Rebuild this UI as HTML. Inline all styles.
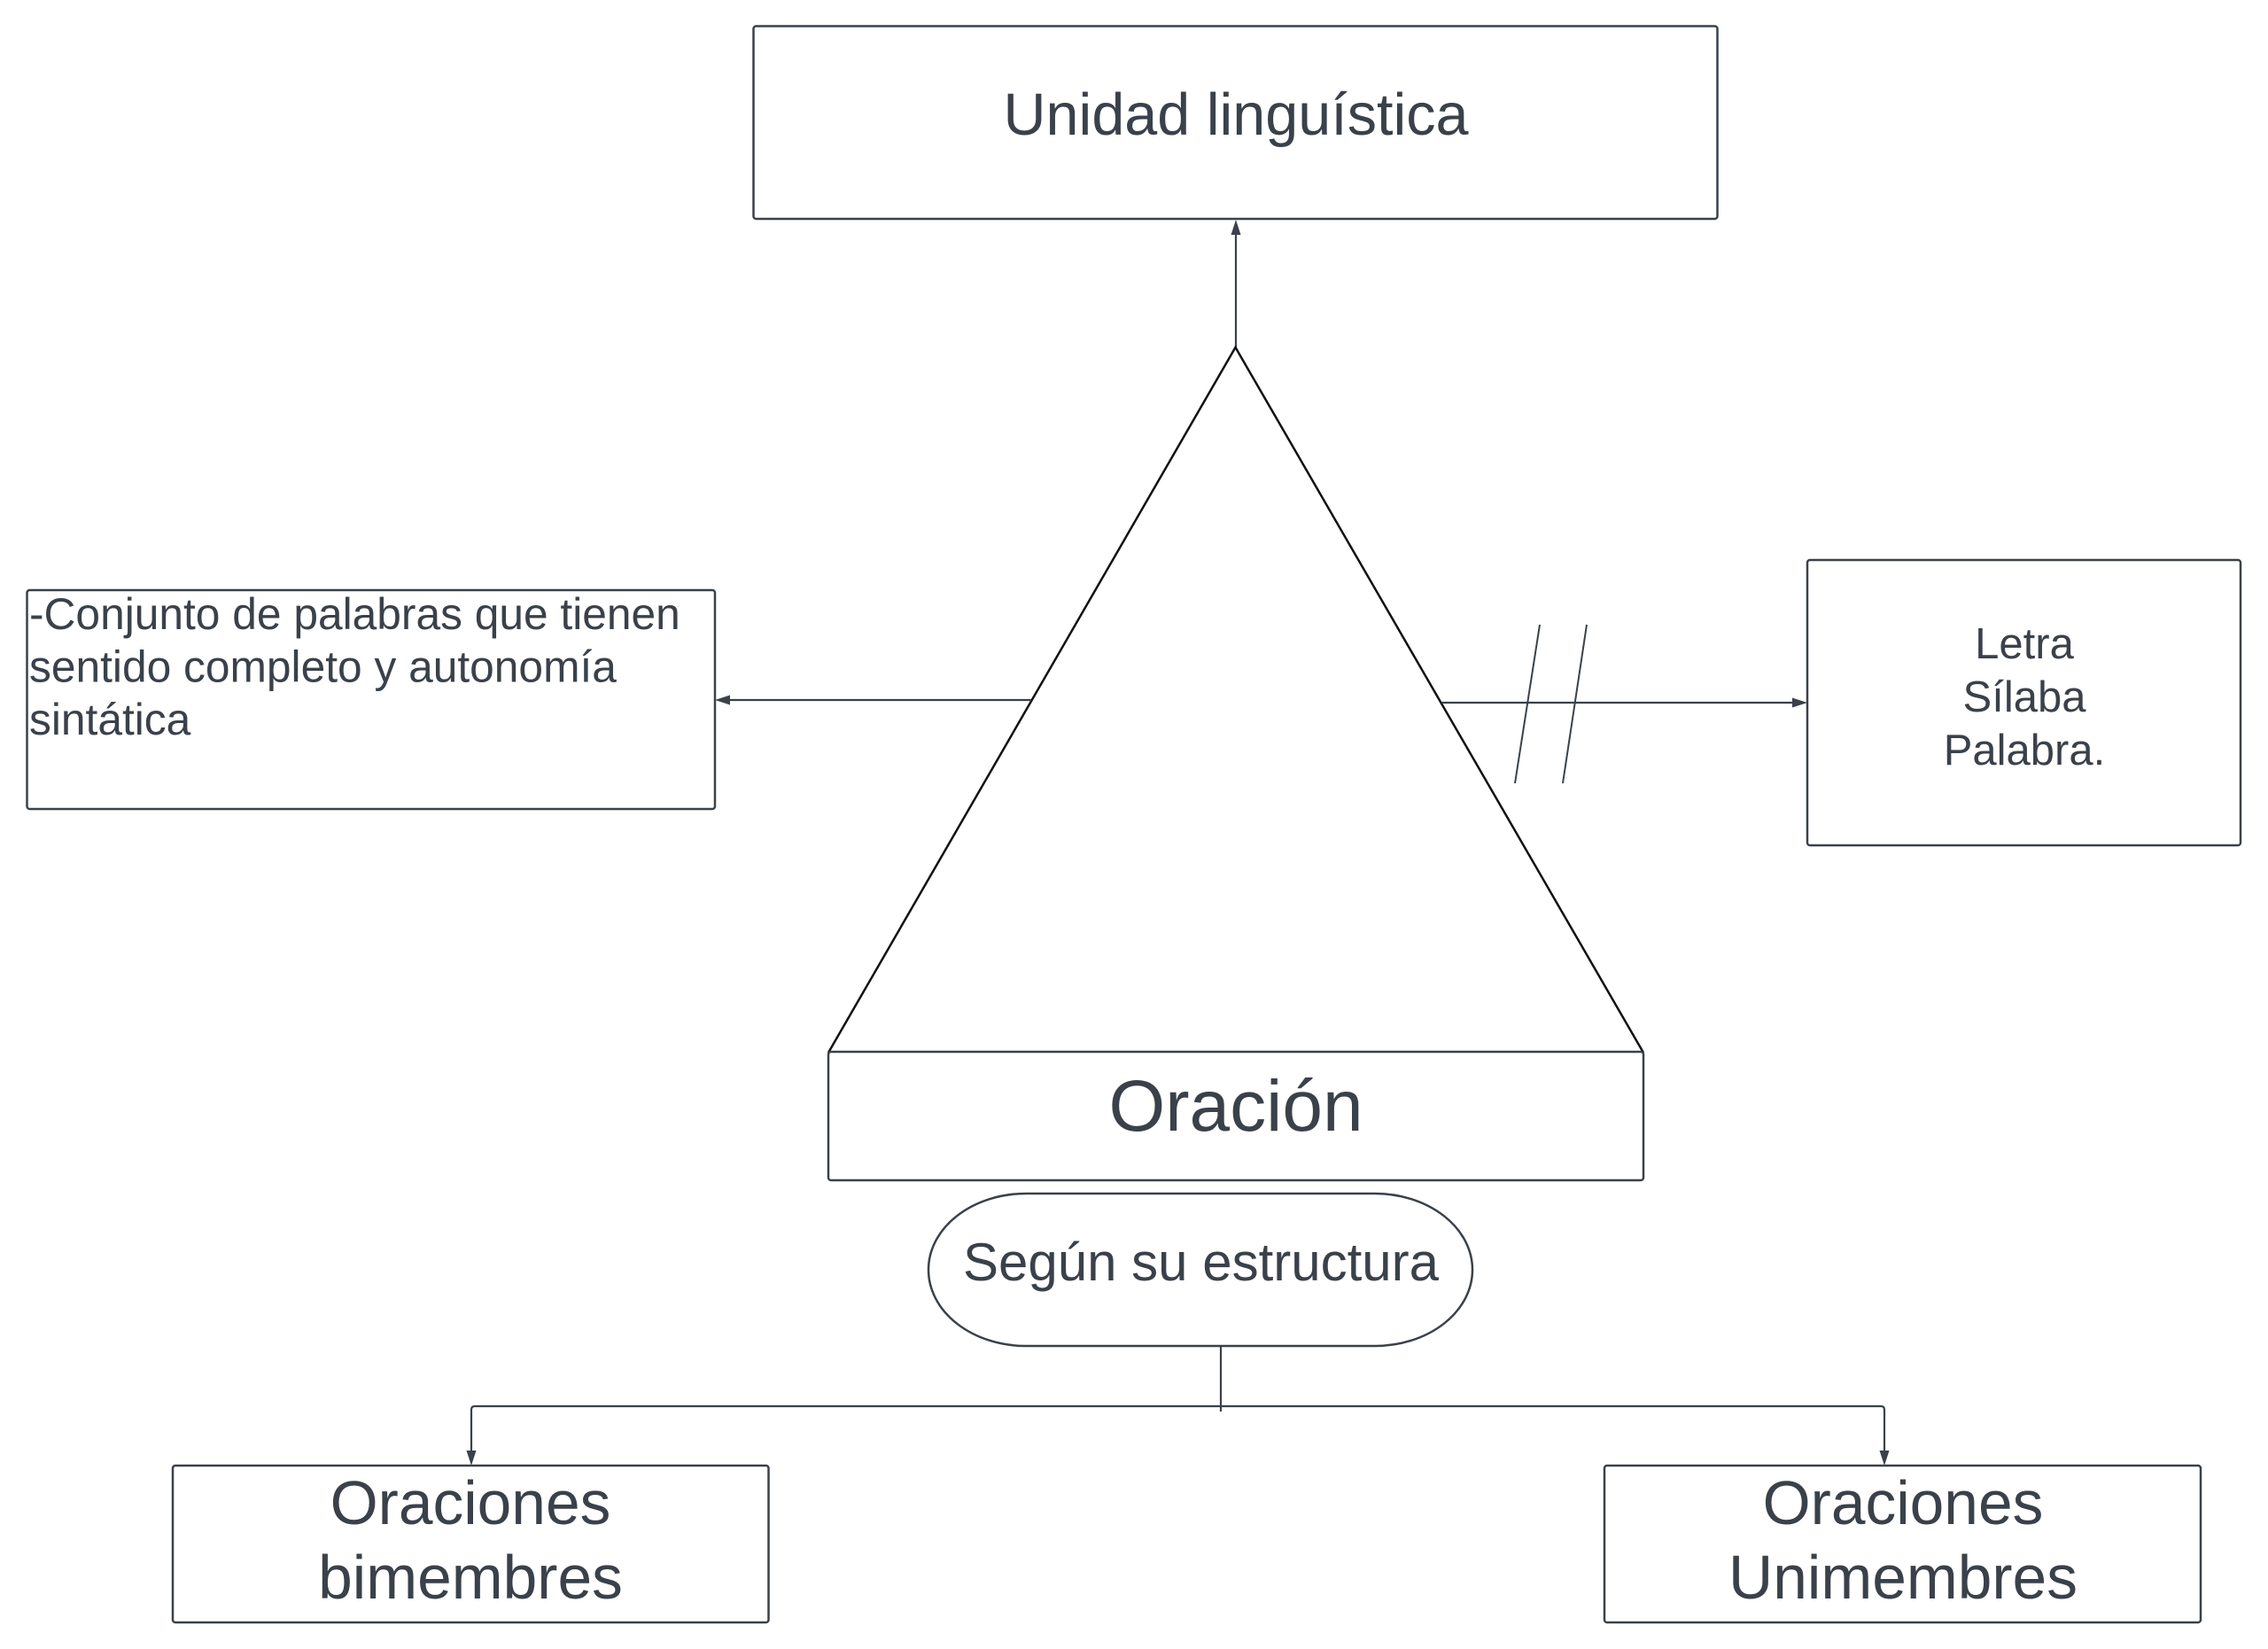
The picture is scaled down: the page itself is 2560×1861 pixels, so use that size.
<!DOCTYPE html>
<html>
<head>
<meta charset="utf-8">
<style>
  html, body { margin: 0; padding: 0; background: #ffffff; }
  body { width: 2560px; height: 1861px; overflow: hidden; }
  svg { display: block; }
  text { font-family: "Liberation Sans", Arial, sans-serif; fill: #3a414a; }
</style>
</head>
<body>
<svg width="2560" height="1861" viewBox="0 0 2560 1861" xmlns="http://www.w3.org/2000/svg">
  <rect x="0" y="0" width="2560" height="1861" fill="#ffffff"/>

  <!-- Unidad linguística -->
  <rect x="850.5" y="29.5" width="1088" height="217.5" rx="3" ry="3" fill="#ffffff" stroke="#3a414a" stroke-width="2.5"/>
  <text x="1395" y="152" font-size="66.5" text-anchor="middle">Unidad linguística</text>

  <!-- arrow up from triangle apex -->
  <line x1="1395" y1="393" x2="1395" y2="264" stroke="#3a414a" stroke-width="2.2"/>
  <polygon points="1395,248 1389.5,265 1400.5,265" fill="#3a414a"/>

  <!-- triangle -->
  <polyline points="935,1188 1394.5,392 1855,1188" fill="none" stroke="#111111" stroke-width="2.5" stroke-linejoin="miter"/>

  <!-- left box -->
  <rect x="30.5" y="666" width="776.5" height="247" rx="3" ry="3" fill="#ffffff" stroke="#3a414a" stroke-width="2.5"/>
  <text x="33" y="710" font-size="49.7">-Conjunto de palabras que tienen</text>
  <text x="33" y="769.5" font-size="49.7">sentido completo y autonomía</text>
  <text x="33" y="829" font-size="49.7">sintática</text>

  <!-- left arrow -->
  <line x1="1164" y1="790" x2="823" y2="790" stroke="#3a414a" stroke-width="2.2"/>
  <polygon points="807,790 824,784.5 824,795.5" fill="#3a414a"/>

  <!-- right arrow -->
  <line x1="1627" y1="793" x2="2024" y2="793" stroke="#3a414a" stroke-width="2.2"/>
  <polygon points="2040,793 2023,787.5 2023,798.5" fill="#3a414a"/>

  <!-- slashes -->
  <line x1="1738" y1="705" x2="1710" y2="884" stroke="#3a414a" stroke-width="2"/>
  <line x1="1791" y1="705" x2="1764" y2="884" stroke="#3a414a" stroke-width="2"/>

  <!-- Letra box -->
  <rect x="2040" y="632" width="489" height="322" rx="3" ry="3" fill="#ffffff" stroke="#3a414a" stroke-width="2.5"/>
  <text x="2285" y="743" font-size="49" text-anchor="middle">Letra</text>
  <text x="2285" y="803" font-size="49" text-anchor="middle">Sílaba</text>
  <text x="2285" y="863" font-size="49" text-anchor="middle">Palabra.</text>

  <!-- Oración box -->
  <rect x="935" y="1187" width="920" height="145" rx="3" ry="3" fill="#ffffff" stroke="#3a414a" stroke-width="2.5"/>
  <text x="1395" y="1276" font-size="82" text-anchor="middle">Oración</text>

  <!-- Según su estructura -->
  <rect x="1048" y="1347" width="614" height="172" rx="110" ry="86" fill="#ffffff" stroke="#3a414a" stroke-width="2.5"/>
  <text x="1355.5" y="1445" font-size="60" text-anchor="middle">Según su estructura</text>

  <!-- connectors to bottom boxes -->
  <line x1="1378" y1="1519" x2="1378" y2="1593" stroke="#3a414a" stroke-width="2.2"/>
  <path d="M532,1637 L532,1591 Q532,1587 536,1587 L2123,1587 Q2127,1587 2127,1591 L2127,1637" fill="none" stroke="#3a414a" stroke-width="2.2"/>
  <polygon points="532,1654 526.5,1637 537.5,1637" fill="#3a414a"/>
  <polygon points="2127,1654 2121.5,1637 2132.5,1637" fill="#3a414a"/>

  <!-- bimembres box -->
  <rect x="195" y="1654" width="672.5" height="177" rx="3" ry="3" fill="#ffffff" stroke="#3a414a" stroke-width="2.5"/>
  <text x="531" y="1720" font-size="69.5" text-anchor="middle">Oraciones</text>
  <text x="531" y="1804" font-size="69.5" text-anchor="middle">bimembres</text>

  <!-- Unimembres box -->
  <rect x="1811" y="1654" width="673" height="177" rx="3" ry="3" fill="#ffffff" stroke="#3a414a" stroke-width="2.5"/>
  <text x="2148" y="1720" font-size="69.5" text-anchor="middle">Oraciones</text>
  <text x="2148" y="1804" font-size="69.5" text-anchor="middle">Unimembres</text>
</svg>
</body>
</html>
